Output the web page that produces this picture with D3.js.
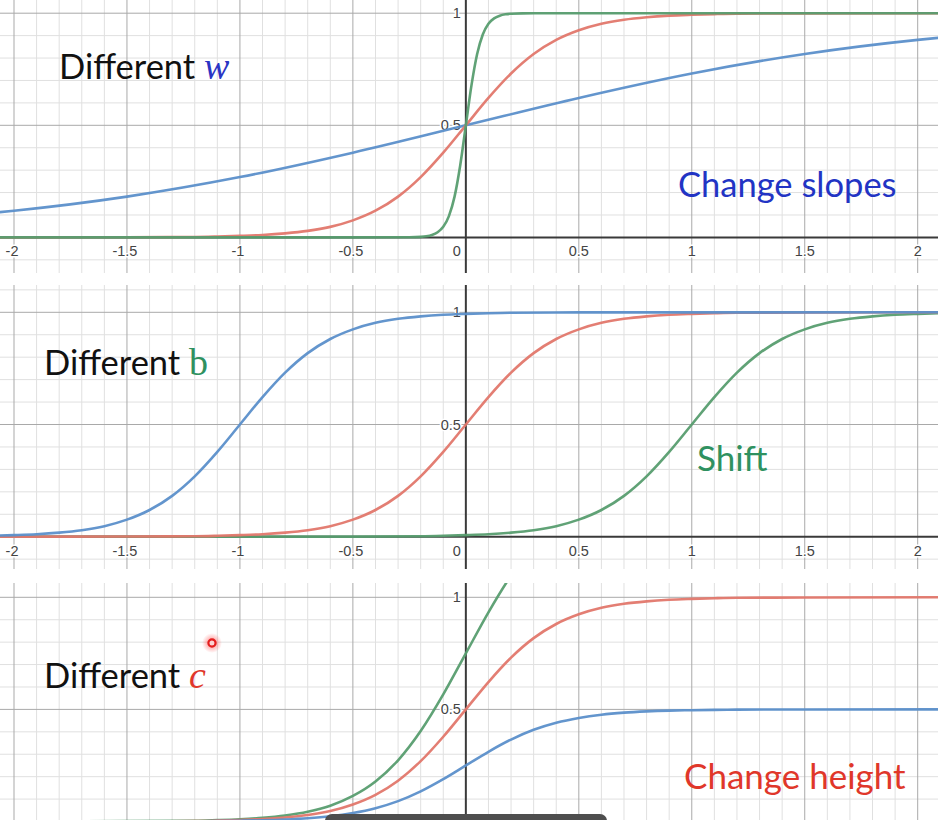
<!DOCTYPE html>
<html><head><meta charset="utf-8">
<script src="https://cdn.jsdelivr.net/npm/d3@7"></script>
<style>
html,body{margin:0;padding:0;background:#fff;}
svg{display:block;}
</style></head>
<body><svg id="chart" width="938" height="820"></svg>
<script>
// ---------- DATA ----------
const xTicks = [-2, -1.5, -1, -0.5, 0, 0.5, 1, 1.5, 2];
const xTickLabels = ["-2", "-1.5", "-1", "-0.5", "0", "0.5", "1", "1.5", "2"];
const yTicks = [0.5, 1];
const yTickLabels = ["0.5", "1"];

// Panel 1: different w
const p1BlueX  = [-2.1, -2, -1.5, -1, -0.5, 0, 0.5, 1, 1.5, 2, 2.1];
const p1BlueY  = [0.109, 0.119, 0.182, 0.269, 0.378, 0.5, 0.622, 0.731, 0.818, 0.881, 0.891];
const redX     = [-2.1, -1.5, -1.2, -1.1, -1.0, -0.9, -0.8, -0.7, -0.6, -0.5, -0.4, -0.3, -0.2, -0.1, 0, 0.1, 0.2, 0.3, 0.4, 0.5, 0.6, 0.7, 0.8, 0.9, 1.0, 1.1, 1.2, 1.5, 2.1];
const redY     = [0.000, 0.001, 0.002, 0.004, 0.007, 0.011, 0.018, 0.029, 0.047, 0.076, 0.119, 0.182, 0.269, 0.378, 0.5, 0.622, 0.731, 0.818, 0.881, 0.924, 0.953, 0.971, 0.982, 0.989, 0.993, 0.996, 0.998, 0.999, 1.000];
const p1GreenX = [-2.1, -0.5, -0.25, -0.2, -0.175, -0.15, -0.125, -0.1, -0.075, -0.05, -0.025, 0, 0.025, 0.05, 0.075, 0.1, 0.125, 0.15, 0.175, 0.2, 0.25, 0.5, 2.1];
const p1GreenY = [0.000, 0.000, 0.0006, 0.0025, 0.0052, 0.011, 0.023, 0.047, 0.095, 0.182, 0.321, 0.5, 0.679, 0.818, 0.905, 0.953, 0.977, 0.989, 0.995, 0.9975, 0.9994, 1.000, 1.000];

// Panel 2: different b
const p2BlueX  = [-2.1, -2.0, -1.9, -1.8, -1.7, -1.6, -1.5, -1.4, -1.3, -1.2, -1.1, -1.0, -0.9, -0.8, -0.7, -0.6, -0.5, -0.4, -0.3, -0.2, -0.1, 0, 0.1, 0.2, 0.5, 2.1];
const p2BlueY  = [0.004, 0.007, 0.011, 0.018, 0.029, 0.047, 0.076, 0.119, 0.182, 0.269, 0.378, 0.5, 0.622, 0.731, 0.818, 0.881, 0.924, 0.953, 0.971, 0.982, 0.989, 0.993, 0.996, 0.998, 0.9995, 1.000];
const p2GreenX = [-2.1, -0.5, -0.2, -0.1, 0, 0.1, 0.2, 0.3, 0.4, 0.5, 0.6, 0.7, 0.8, 0.9, 1.0, 1.1, 1.2, 1.3, 1.4, 1.5, 1.6, 1.7, 1.8, 1.9, 2.0, 2.1];
const p2GreenY = [0.000, 0.0005, 0.002, 0.004, 0.007, 0.011, 0.018, 0.029, 0.047, 0.076, 0.119, 0.182, 0.269, 0.378, 0.5, 0.622, 0.731, 0.818, 0.881, 0.924, 0.953, 0.971, 0.982, 0.989, 0.993, 0.996];

// Panel 3: different c
const p3BlueX  = redX;
const p3BlueY  = [0.000, 0.0005, 0.001, 0.002, 0.0035, 0.0055, 0.009, 0.0145, 0.0235, 0.038, 0.0595, 0.091, 0.1345, 0.189, 0.25, 0.311, 0.3655, 0.409, 0.4405, 0.462, 0.4765, 0.4855, 0.491, 0.4945, 0.4965, 0.498, 0.499, 0.4995, 0.5];
const p3GreenX = [-2.1, -1.5, -1.2, -1.1, -1.0, -0.9, -0.8, -0.7, -0.6, -0.5, -0.4, -0.3, -0.2, -0.1, 0, 0.1, 0.2, 0.3];
const p3GreenY = [0.000, 0.0015, 0.003, 0.006, 0.010, 0.0165, 0.027, 0.0435, 0.0705, 0.114, 0.1785, 0.273, 0.4035, 0.567, 0.75, 0.933, 1.0965, 1.227];

// ---------- STYLE ----------
const BLUE = "#5b8fca", RED = "#e2776c", GREEN = "#579d6f";

const svg = d3.select("#chart");
const W = 938;
const x = d3.scaleLinear().domain([-2, 2]).range([14, 917.7]);

const panels = [
  {top: 0,   bottom: 273, y: d3.scaleLinear().domain([0, 1]).range([237.4, 13.2]), xLabels: true,
   curves: [[p1BlueX, p1BlueY, BLUE], [redX, redY, RED], [p1GreenX, p1GreenY, GREEN]]},
  {top: 285, bottom: 569, y: d3.scaleLinear().domain([0, 1]).range([536.7, 312.3]), xLabels: true,
   curves: [[p2GreenX, p2GreenY, GREEN], [redX, redY, RED], [p2BlueX, p2BlueY, BLUE]]},
  {top: 583, bottom: 820, y: d3.scaleLinear().domain([0, 1]).range([821.5, 597.3]), xLabels: false,
   curves: [[p3GreenX, p3GreenY, GREEN], [redX, redY, RED], [p3BlueX, p3BlueY, BLUE]]}
];

const minorX = d3.range(-21, 22).map(i => i / 10).filter(v => Math.abs(v * 2 - Math.round(v * 2)) > 1e-6);
const majorX = d3.range(-4, 5).map(i => i / 2).filter(v => v !== 0);

panels.forEach((p, i) => {
  const clipId = "clip" + i;
  svg.append("clipPath").attr("id", clipId)
    .append("rect").attr("x", 0).attr("y", p.top).attr("width", W).attr("height", p.bottom - p.top);
  const g = svg.append("g").attr("clip-path", `url(#${clipId})`);
  const y = p.y;
  const minorY = d3.range(-3, 13).map(k => k / 10).filter(v => Math.abs(v * 2 - Math.round(v * 2)) > 1e-6);
  const majorY = [-0.5, 0.5, 1, 1.5];
  // minor grid
  g.selectAll(null).data(minorX).join("line")
    .attr("x1", d => x(d)).attr("x2", d => x(d)).attr("y1", p.top).attr("y2", p.bottom)
    .attr("stroke", "#e0e0e0").attr("stroke-width", 1);
  g.selectAll(null).data(minorY).join("line")
    .attr("x1", 0).attr("x2", W).attr("y1", d => y(d)).attr("y2", d => y(d))
    .attr("stroke", "#e0e0e0").attr("stroke-width", 1);
  // major grid
  g.selectAll(null).data(majorX).join("line")
    .attr("x1", d => x(d)).attr("x2", d => x(d)).attr("y1", p.top).attr("y2", p.bottom)
    .attr("stroke", "#a9a9a9").attr("stroke-width", 1);
  g.selectAll(null).data(majorY).join("line")
    .attr("x1", 0).attr("x2", W).attr("y1", d => y(d)).attr("y2", d => y(d))
    .attr("stroke", "#a9a9a9").attr("stroke-width", 1);
  // axes
  g.append("line").attr("x1", 0).attr("x2", W).attr("y1", y(0)).attr("y2", y(0))
    .attr("stroke", "#3a3a3a").attr("stroke-width", 2);
  g.append("line").attr("x1", x(0)).attr("x2", x(0)).attr("y1", p.top).attr("y2", p.bottom)
    .attr("stroke", "#3a3a3a").attr("stroke-width", 2);
  // tick labels
  const lab = g.append("g").attr("font-family", "'Liberation Sans', Arial, sans-serif")
    .attr("font-size", 14.5).attr("fill", "#444")
    .attr("stroke", "#fff").attr("stroke-width", 3).attr("paint-order", "stroke").attr("stroke-linejoin", "round");
  if (p.xLabels) {
    lab.selectAll(null).data(xTicks.map((v, k) => [v, xTickLabels[k]]).filter(d => d[0] !== 0)).join("text")
      .attr("x", d => x(d[0]) - (d[0] < 0 ? 2 : 0)).attr("y", y(0) + 19).attr("text-anchor", "middle")
      .text(d => d[1]);
    lab.append("text").attr("x", x(0) - 5).attr("y", y(0) + 19).attr("text-anchor", "end").text(xTickLabels[4]);
  }
  lab.selectAll(null).data(yTicks.map((v, k) => [v, yTickLabels[k]])).join("text")
    .attr("x", x(0) - 5).attr("y", d => y(d[0]) + 5).attr("text-anchor", "end")
    .text(d => d[1]);
  // curves
  p.curves.forEach(([xs, ys, col]) => {
    const line = d3.line().x(d => x(d[0])).y(d => y(d[1])).curve(d3.curveMonotoneX);
    g.append("path").datum(xs.map((v, k) => [v, ys[k]]))
      .attr("d", line).attr("fill", "none").attr("stroke", col)
      .attr("stroke-width", 2.6).attr("stroke-linecap", "round").attr("opacity", 0.95);
  });
});

// ---------- ANNOTATIONS ----------
const sans = "Lato, 'Open Sans', sans-serif";
const serif = "'Liberation Serif', 'DejaVu Serif', serif";
function label(xp, yp, main, sym, symColor, italic) {
  const t = svg.append("text").attr("x", xp).attr("y", yp).attr("font-family", sans)
    .attr("font-size", 34.5).attr("fill", "#111");
  t.append("tspan").text(main + " ");
  t.append("tspan").attr("font-family", serif).attr("font-style", italic ? "italic" : "normal")
    .attr("font-size", 38).attr("fill", symColor).text(sym);
}
label(59, 79, "Different", "w", "#2a35c4", true);
label(44, 375, "Different", "b", "#2f9160", false);
label(44, 688, "Different", "c", "#e0372a", true);

svg.append("text").attr("x", 678).attr("y", 197).attr("font-family", sans).attr("font-size", 34.5)
  .attr("fill", "#2234c4").text("Change slopes");
svg.append("text").attr("x", 697).attr("y", 471).attr("font-family", sans).attr("font-size", 35)
  .attr("fill", "#2f9160").text("Shift");
svg.append("text").attr("x", 684).attr("y", 789).attr("font-family", sans).attr("font-size", 35)
  .attr("fill", "#e0372a").text("Change height");

// cursor marker
const defs = svg.append("defs");
const rg = defs.append("radialGradient").attr("id", "glow");
rg.append("stop").attr("offset", "0%").attr("stop-color", "#ff2a2a").attr("stop-opacity", 0.6);
rg.append("stop").attr("offset", "100%").attr("stop-color", "#ff2a2a").attr("stop-opacity", 0);
svg.append("circle").attr("cx", 212).attr("cy", 643).attr("r", 10).attr("fill", "url(#glow)");
svg.append("circle").attr("cx", 212).attr("cy", 643).attr("r", 3.6).attr("fill", "#fbd2d2")
  .attr("stroke", "#e41e1e").attr("stroke-width", 2.2);

// video scrub bar at the bottom
svg.append("rect").attr("x", 325).attr("y", 814).attr("width", 282).attr("height", 14)
  .attr("rx", 7).attr("fill", "#4e4e4e");
</script>
</body></html>
